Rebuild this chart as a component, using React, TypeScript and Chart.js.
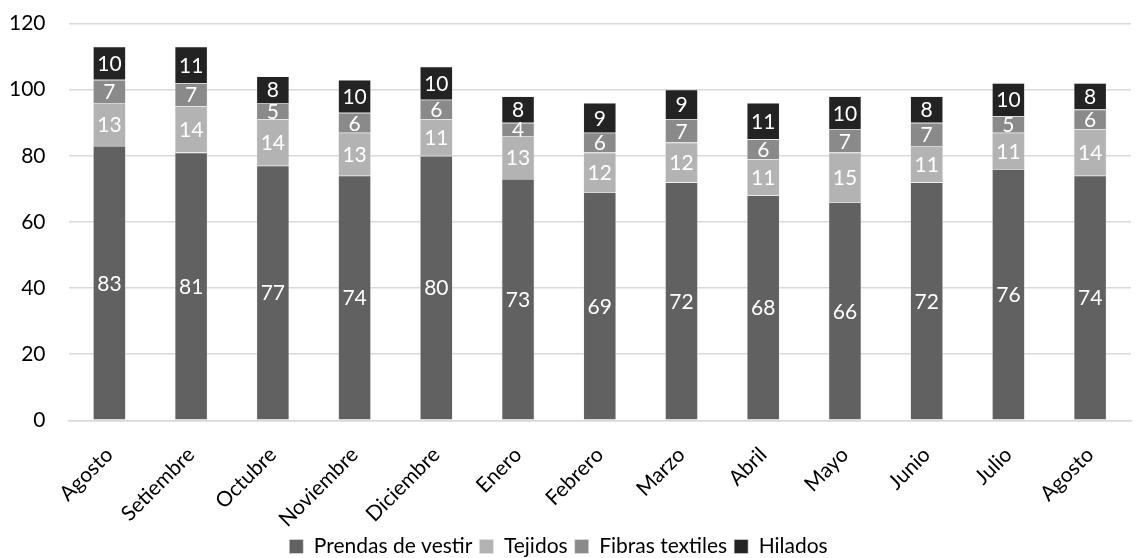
import React, { useEffect, useRef } from "react";
import { Chart, registerables } from "chart.js";

Chart.register(...registerables);

const categories = ["Agosto", "Setiembre", "Octubre", "Noviembre", "Diciembre", "Enero", "Febrero", "Marzo", "Abril", "Mayo", "Junio", "Julio", "Agosto"];
const prendas = [83, 81, 77, 74, 80, 73, 69, 72, 68, 66, 72, 76, 74];
const tejidos = [13, 14, 14, 13, 11, 13, 12, 12, 11, 15, 11, 11, 14];
const fibras = [7, 7, 5, 6, 6, 4, 6, 7, 6, 7, 7, 5, 6];
const hilados = [10, 11, 8, 10, 10, 8, 9, 9, 11, 10, 8, 10, 8];

const FONT = "Lato, 'Open Sans', sans-serif";

const labelPlugin = {
  id: "segLabels",
  afterDatasetsDraw(chart: any) {
    const ctx = chart.ctx;
    ctx.save();
    ctx.fillStyle = "#ffffff";
    ctx.font = `21px ${FONT}`;
    ctx.textAlign = "center";
    ctx.textBaseline = "middle";
    chart.data.datasets.forEach((ds: any, i: number) => {
      const meta = chart.getDatasetMeta(i);
      meta.data.forEach((bar: any, j: number) => {
        const y = (bar.y + bar.base) / 2;
        ctx.fillText(String(ds.data[j]), bar.x, y + 1);
      });
    });
    ctx.restore();
  },
};

export default function App() {
  const ref = useRef<HTMLCanvasElement>(null);
  useEffect(() => {
    if (!ref.current) return;
    const mk = (label: string, data: number[], color: string) => ({
      label,
      data,
      backgroundColor: color,
      borderColor: "rgba(230,230,230,0.9)",
      borderWidth: 0.6,
      barPercentage: 0.8,
      categoryPercentage: 0.5,
    });
    const chart = new Chart(ref.current, {
      type: "bar",
      data: {
        labels: categories,
        datasets: [
          mk("Prendas de vestir", prendas, "#616161"),
          mk("Tejidos", tejidos, "#b3b3b3"),
          mk("Fibras textiles", fibras, "#8a8a8a"),
          mk("Hilados", hilados, "#232323"),
        ],
      },
      options: {
        animation: false,
        responsive: false,
        maintainAspectRatio: false,
        layout: { padding: { top: 0, right: 6, left: 12, bottom: 0 } },
        plugins: {
          legend: {
            position: "bottom",
            labels: {
              font: { family: FONT, size: 21 },
              color: "#000",
              boxWidth: 14,
              boxHeight: 14,
              padding: 7,
            },
          },
          tooltip: { enabled: false },
        },
        scales: {
          x: {
            stacked: true,
            grid: { display: false },
            border: { color: "#d9d9d9", width: 1.5 },
            afterFit: (s: any) => {
              s.height = s.height - 17;
            },
            ticks: {
              color: "#000",
              font: { family: FONT, size: 21 },
              maxRotation: 45,
              minRotation: 45,
              padding: 14,
            },
          },
          y: {
            stacked: true,
            min: 0,
            max: 120,
            ticks: {
              stepSize: 20,
              color: "#000",
              font: { family: FONT, size: 21 },
              padding: 23,
            },
            grid: { color: "#d9d9d9", lineWidth: 1.5, drawTicks: false },
            border: { display: false },
          },
        },
      },
      plugins: [labelPlugin],
    });
    return () => chart.destroy();
  }, []);
  return (
    <div style={{ position: "fixed", left: 0, top: 0, width: 1137, height: 558, background: "#fff", overflow: "hidden" }}>
      <canvas ref={ref} width={1163} height={579} style={{ position: "absolute", left: -26, top: -12 }} />
    </div>
  );
}
